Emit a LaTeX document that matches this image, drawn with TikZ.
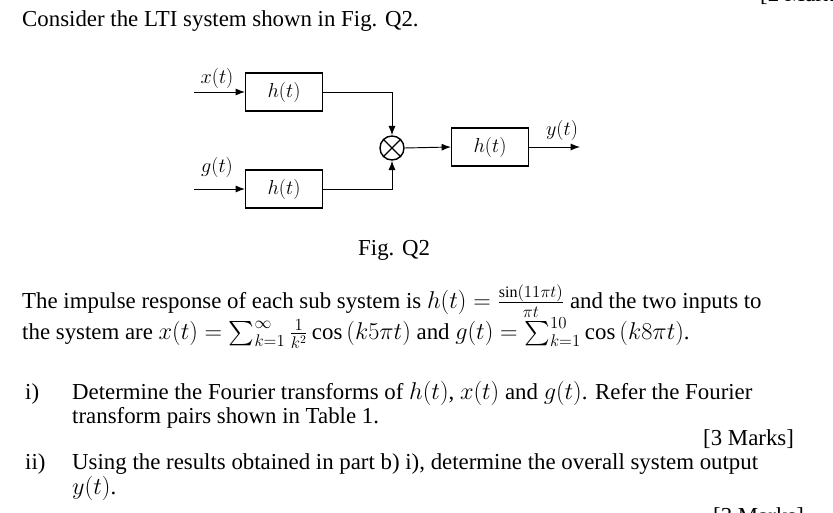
\documentclass[tikz,border=0pt]{standalone}
\usepackage{amsmath}
\usepackage{fontspec}
\setmainfont{Liberation Serif}
\usetikzlibrary{arrows.meta}
\tikzset{
  blk/.style={draw,very thick,minimum width=2.3cm,minimum height=1.15cm,font=\fontsize{18}{21}\selectfont},
  sig/.style={font=\fontsize{18}{21}\selectfont},
  txt/.style={anchor=base west,inner sep=0pt,font=\fontsize{19.5}{23}\selectfont},
  flow/.style={thick,-{Latex[length=8pt]}}
}
\begin{document}
\begin{tikzpicture}[x=0.03cm,y=-0.03cm]
  \useasboundingbox (0,0) rectangle (833,513);
  % header
  \node[txt] (head) at (22,27) {Consider the LTI system shown in Fig. Q2.};
  \node[txt] (mk0) at (760,2) {[2 Marks]};
  % block diagram
  \node[blk] (h1) at (284,92) {$h(t)$};
  \node[blk] (h2) at (284,189) {$h(t)$};
  \node[draw,very thick,circle,minimum size=0.72cm,inner sep=0pt] (mul) at (392,148) {};
  \draw[very thick] (mul.north west) -- (mul.south east) (mul.north east) -- (mul.south west);
  \node[blk] (h3) at (490,147) {$h(t)$};
  \node[sig] (xin) at (217,78) {$x(t)$};
  \node[sig] (gin) at (217,167) {$g(t)$};
  \node[sig] (yout) at (562,130) {$y(t)$};
  \coordinate (xs) at (194,92);
  \coordinate (gs) at (194,189);
  \coordinate (ye) at (580,147);
  \draw[flow] (xs) -- (h1.west);
  \draw[flow] (gs) -- (h2.west);
  \draw[flow] (h1.east) -| (mul.north);
  \draw[flow] (h2.east) -| (mul.south);
  \draw[flow] (mul.east) -- (h3.west);
  \draw[flow] (h3.east) -- (ye);
  \node[txt] (cap) at (358,256) {Fig. Q2};
  % question text
  \node[txt] (p1) at (22,309) {The impulse response of each sub system is $h(t)=\frac{\sin(11\pi t)}{\pi t}$ and the two inputs to};
  \node[txt] (p2) at (22,340) {the system are $x(t)=\sum_{k=1}^{\infty}\frac{1}{k^2}\cos\,(k5\pi t)$ and $g(t)=\sum_{k=1}^{10}\cos\,(k8\pi t)$.};
  \node[txt] (i1) at (25,399) {i)};
  \node[txt] (i1a) at (72,399) {Determine the Fourier transforms of $h(t)$, $x(t)$ and $g(t)$. Refer the Fourier};
  \node[txt] (i1b) at (72,423) {transform pairs shown in Table 1.};
  \node[txt] (mk1) at (703,445) {[3 Marks]};
  \node[txt] (i2) at (25,469) {ii)};
  \node[txt] (i2a) at (72,469) {Using the results obtained in part b) i), determine the overall system output};
  \node[txt] (i2b) at (72,494) {$y(t)$.};
  \node[txt] (mk2) at (713,523) {[3 Marks]};
\end{tikzpicture}
\end{document}
